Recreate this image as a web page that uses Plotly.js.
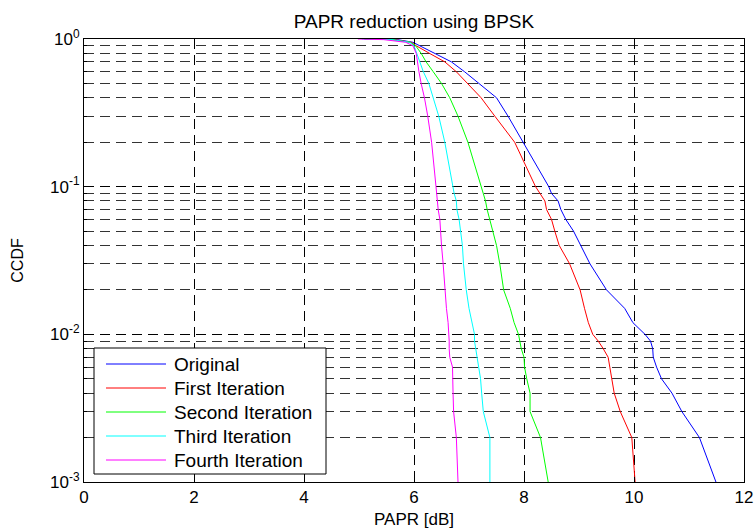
<!DOCTYPE html>
<html>
<head>
<meta charset="utf-8">
<script src="https://cdn.plot.ly/plotly-3.0.1.min.js"></script>
<style>html,body{margin:0;padding:0;background:#fff;}#chart{width:754px;height:529px;}</style>
</head>
<body>
<div id="chart"></div>
<script>
const levels = [1, 0.99, 0.95, 0.9, 0.8, 0.7, 0.6, 0.5, 0.4, 0.3, 0.2, 0.1, 0.09, 0.08, 0.07, 0.06, 0.05, 0.04, 0.03, 0.02, 0.015, 0.012, 0.01, 0.009, 0.008, 0.007, 0.006, 0.005, 0.004, 0.003, 0.002, 0.001];
const original = [5.10,5.70,5.98,6.10,6.38,6.68,6.92,7.19,7.50,7.71,7.98,8.45,8.50,8.62,8.67,8.76,8.90,9.03,9.20,9.50,9.83,9.98,10.20,10.30,10.34,10.35,10.41,10.50,10.69,10.87,11.19,11.49];
const firstIter = [5.10,5.65,5.95,6.04,6.28,6.56,6.77,6.98,7.22,7.47,7.83,8.21,8.29,8.38,8.41,8.50,8.56,8.64,8.83,9.02,9.10,9.17,9.25,9.35,9.44,9.53,9.56,9.59,9.64,9.75,9.96,10.02];
const secondIter = [5.10,5.60,5.93,6.03,6.13,6.22,6.35,6.50,6.65,6.80,6.98,7.22,7.27,7.30,7.33,7.38,7.44,7.50,7.56,7.63,7.75,7.82,7.90,7.92,7.95,8.00,8.01,8.05,8.11,8.11,8.30,8.44];
const thirdIter = [5.05,5.60,5.92,6.00,6.05,6.10,6.17,6.27,6.35,6.45,6.56,6.71,6.73,6.77,6.78,6.82,6.85,6.88,6.90,6.95,7.00,7.06,7.10,7.10,7.12,7.15,7.18,7.21,7.23,7.26,7.38,7.38];
const fourthIter = [4.98,5.45,5.85,5.98,6.04,6.06,6.09,6.13,6.19,6.25,6.32,6.40,6.41,6.42,6.44,6.47,6.48,6.50,6.53,6.56,6.59,6.62,6.64,6.64,6.64,6.65,6.70,6.71,6.71,6.72,6.77,6.80];

const seriesNames = ["Original", "First Iteration", "Second Iteration", "Third Iteration", "Fourth Iteration"];
const seriesColors = ["#0000ff", "#ff0000", "#00ff00", "#00ffff", "#ff00ff"];
const seriesX = [original, firstIter, secondIter, thirdIter, fourthIter];

const xTickVals = [0, 2, 4, 6, 8, 10, 12];
const yTickVals = [0.001, 0.01, 0.1, 1];
const yTickText = ["10<sup>-3</sup>", "10<sup>-2</sup>", "10<sup>-1</sup>", "10<sup>0</sup>"];
const decades = [0.001, 0.01, 0.1];
const digits = [2, 3, 4, 5, 6, 7, 8, 9];
const yMinorVals = [];
decades.forEach(d => digits.forEach(k => yMinorVals.push(+(d * k).toPrecision(3))));

const font = "Liberation Sans, Arial, Helvetica, sans-serif";

const traces = seriesX.map((xs, i) => ({
  x: xs, y: levels, type: "scatter", mode: "lines",
  name: seriesNames[i], showlegend: false,
  line: {color: seriesColors[i], width: 1}
}));

// Legend box styled like the MATLAB legend (paper coordinates of the plot area)
const W = 754, H = 529, M = {l: 84, r: 10, t: 39, b: 47};
const pw = W - M.l - M.r, ph = H - M.t - M.b;
const px = v => (v - M.l) / pw;           // pixel x -> paper
const py = v => (H - M.b - v) / ph;       // pixel y -> paper
const shapes = [{type: "rect", xref: "paper", yref: "paper", x0: px(94), x1: px(326), y0: py(474), y1: py(348),
  line: {color: "#000", width: 1}, fillcolor: "#fff", layer: "above"}];
const annotations = [];
seriesNames.forEach((n, i) => {
  const yy = py(364 + 24 * i);
  shapes.push({type: "line", xref: "paper", yref: "paper", x0: px(106), x1: px(166), y0: yy, y1: yy,
    line: {color: seriesColors[i], width: 1}, layer: "above"});
  annotations.push({xref: "paper", yref: "paper", x: px(172), y: yy, xanchor: "left", yanchor: "middle",
    text: n, showarrow: false, font: {family: font, size: 19, color: "#000"}});
});

const gridDash = "10px,6px";

const layout = {
  width: W, height: H,
  margin: M,
  paper_bgcolor: "#fff", plot_bgcolor: "#fff",
  font: {family: font, size: 17, color: "#000"},
  title: {text: "PAPR reduction using BPSK", x: 0.5, xref: "paper", xanchor: "center", y: 1 - 21.5 / H, yanchor: "middle", font: {family: font, size: 19, color: "#000"}},
  showlegend: false,
  shapes: shapes,
  annotations: annotations,
  xaxis: {
    range: [0, 12], tickmode: "array", tickvals: xTickVals,
    showgrid: true, gridcolor: "#000", griddash: gridDash, gridwidth: 1,
    zeroline: false, showline: true, linecolor: "#000", linewidth: 1, mirror: "ticks",
    ticks: "inside", ticklen: 5, tickcolor: "#000",
    tickfont: {family: font, size: 17, color: "#000"},
    title: {text: "PAPR [dB]", font: {family: font, size: 17, color: "#000"}, standoff: 6}
  },
  yaxis: {
    type: "log", range: [-3, 0], tickmode: "array", tickvals: yTickVals, ticktext: yTickText,
    showgrid: true, gridcolor: "#000", griddash: gridDash, gridwidth: 1,
    zeroline: false, showline: true, linecolor: "#000", linewidth: 1, mirror: "ticks",
    ticks: "inside", ticklen: 5, tickcolor: "#000",
    tickfont: {family: font, size: 17, color: "#000"},
    minor: {tickmode: "array", tickvals: yMinorVals, ticks: "inside", ticklen: 3, tickcolor: "#000", showgrid: true, gridcolor: "#333", griddash: gridDash, gridwidth: 1},
    title: {text: "CCDF", font: {family: font, size: 16, color: "#000"}, standoff: 22}
  }
};

Plotly.newPlot("chart", traces, layout, {displayModeBar: false, staticPlot: true});
</script>
</body>
</html>
